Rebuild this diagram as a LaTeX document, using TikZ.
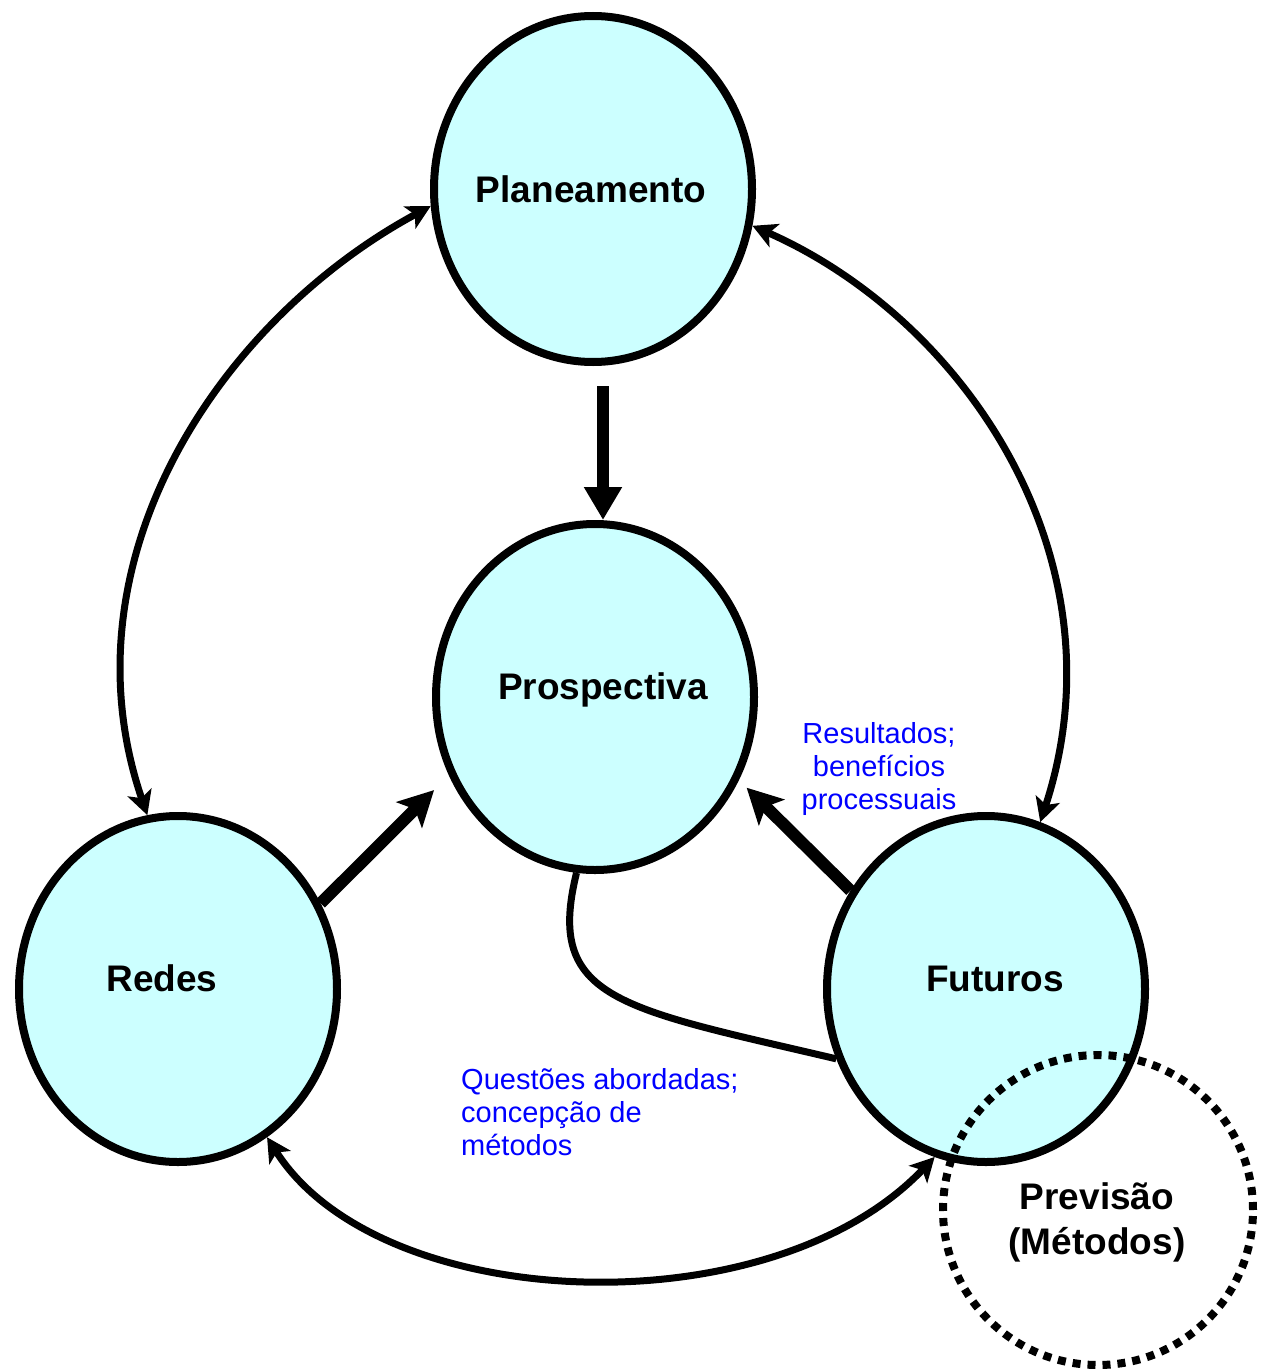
\documentclass[tikz,border=0pt]{standalone}
\usepackage{fontspec}
\setmainfont{Liberation Sans}
\usetikzlibrary{arrows.meta,calc,shapes.geometric}
\definecolor{bubblefill}{RGB}{204,255,255}
\definecolor{notes}{RGB}{0,0,255}
\tikzset{
  bubble/.style={ellipse, draw=black, line width=8pt, fill=bubblefill,
    minimum width=318pt, minimum height=346pt, inner sep=0pt},
  title/.style={font=\fontsize{37}{45}\selectfont\bfseries, inner sep=0pt},
  note/.style={font=\fontsize{29}{33}\selectfont, text=notes, inner sep=0pt},
  link/.style={line width=7pt,
    {Stealth[length=24pt,width=25pt,inset=6pt]}-{Stealth[length=24pt,width=25pt,inset=6pt]}},
  push/.style={line width=12pt, -{Stealth[length=35pt,width=36pt,inset=8pt]}},
  drop/.style={line width=12pt, -{Triangle[length=33pt,width=36pt]}},
  plain/.style={line width=7pt},
  method/.style={circle, draw=black, line width=8pt, dash pattern=on 8pt off 7pt,
    minimum size=310pt, inner sep=0pt},
}
\begin{document}
\begin{tikzpicture}[x=1pt,y=-1pt]
\useasboundingbox (0,0) rectangle (1267,1370);

% the four themes
\node[bubble] (plan)  at (593,189) {};
\node[bubble] (prosp) at (595,697) {};
\node[bubble] (redes) at (178,989) {};
\node[bubble] (fut)   at (986,989) {};

% forecasting methods, overlapping Futuros
\node[method] (prev) at (1098,1210) {};

% labels
\node[title, anchor=base] (plan-t)  at (591,202) {Planeamento};
\node[title, anchor=base] (prosp-t) at (603,699) {Prospectiva};
\node[title, anchor=base] (redes-t) at (162,991) {Redes};
\node[title, anchor=base] (fut-t)   at (995,991) {Futuros};
\node[title, align=center] (prev-t) at (1097,1222) {Previsão\\(Métodos)};

\node[note, align=center, anchor=north] (res) at (879,722)
  {Resultados;\\benefícios\\processuais};
\node[note, align=left, anchor=north west] (quest) at (461,1068)
  {Questões abordadas;\\concepção de\\métodos};

% contributions into Prospectiva
\draw[drop] ([xshift=10pt,yshift=-20pt]plan.south) -- ([xshift=8pt]prosp.north);
\draw[push] (redes.31) -- ($(prosp.210)+(-17,10)$);
\draw[push] (fut.144) -- ($(prosp.-31)+(9,5)$);

% two-way links around the outside
\draw[link] (redes.100) .. controls (60,560) and (220,320) .. (plan.186);
\draw[link] (fut.72) .. controls (1126,560) and (966,320) .. (plan.-13);
\draw[link] (redes.-59) .. controls (380,1315) and (770,1330) .. (fut.253);

% Prospectiva to Futuros
\draw[plain] (prosp.264) .. controls (545,1000) and (620,1008) .. (fut.205);
\end{tikzpicture}
\end{document}
